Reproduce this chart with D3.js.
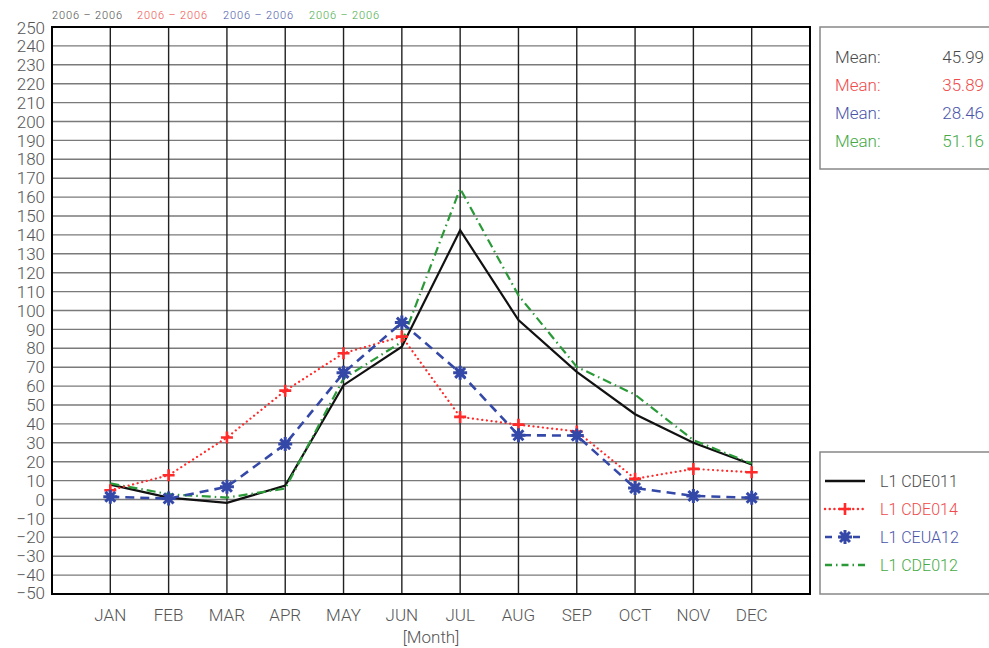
<!DOCTYPE html>
<html><head><meta charset="utf-8">
<script src="https://cdn.jsdelivr.net/npm/d3@7"></script>
<style>body{margin:0;background:#fff}svg{display:block}text{font-family:Roboto,"Liberation Sans",Arial,sans-serif;font-weight:300}</style>
</head><body><svg id="c" width="989" height="648"></svg>
<script>
const months = ["JAN","FEB","MAR","APR","MAY","JUN","JUL","AUG","SEP","OCT","NOV","DEC"];
const yTicks = d3.range(-50, 251, 10);
const seriesNames = ["L1 CDE011","L1 CDE014","L1 CEUA12","L1 CDE012"];
const periods = ["2006 - 2006","2006 - 2006","2006 - 2006","2006 - 2006"];
const means = ["45.99","35.89","28.46","51.16"];
const cde011 = [7.9, 1.0, -1.8, 7.4, 60.5, 80.8, 142.5, 94.9, 67.5, 45.1, 30.0, 18.5];
const cde014 = [4.9, 12.8, 32.8, 57.6, 77.4, 86.2, 43.7, 39.6, 36.0, 11.0, 16.2, 14.4];
const ceua12 = [1.4, 0.5, 6.7, 29.3, 67.0, 93.6, 67.0, 34.0, 33.8, 6.1, 1.9, 0.9];
const cde012 = [8.5, 2.8, 1.0, 5.8, 64.0, 83.4, 164.5, 108.0, 70.2, 55.5, 31.4, 19.0];

const colors = ["#111111","#ff2a2a","#3448a8","#2a9a38"];
const textColors = ["#4a4a4a","#f04a4a","#4a55aa","#45aa45"];
const dashes = [null, "0.1 4.6", "9 6", "9 4 1.5 4"];
const markers = [null, "plus", "star", null];

const svg = d3.select("#c");
const L = 52, R = 810, T = 27, B = 594;
const x = d3.scaleLinear().domain([0, 13]).range([L, R]);
const y = d3.scaleLinear().domain([-50, 250]).range([B, T]);

// horizontal grid
svg.append("g").selectAll("line").data(yTicks.filter(v => v > -50 && v < 250)).join("line")
  .attr("x1", L).attr("x2", R).attr("y1", d => y(d)).attr("y2", d => y(d))
  .attr("stroke", "#7a7a7a").attr("stroke-width", 1.4);
// vertical grid
svg.append("g").selectAll("line").data(months).join("line")
  .attr("x1", (d,i) => x(i+1)).attr("x2", (d,i) => x(i+1)).attr("y1", T).attr("y2", B)
  .attr("stroke", "#222").attr("stroke-width", 1.4);
// frame
svg.append("rect").attr("x", L).attr("y", T).attr("width", R-L).attr("height", B-T)
  .attr("fill", "none").attr("stroke", "#000").attr("stroke-width", 2);

// y labels
svg.append("g").selectAll("text").data(yTicks).join("text")
  .attr("x", 45).attr("y", d => y(d) + (d === 250 ? 1 : d === -50 ? -1 : 0))
  .attr("dy", "0.36em").attr("text-anchor", "end")
  .attr("font-size", 17).attr("fill", "#555")
  .text(d => d < 0 ? "\u2212" + Math.abs(d) : d);

// x labels
svg.append("g").selectAll("text").data(months).join("text")
  .attr("x", (d,i) => x(i+1)).attr("y", 621).attr("text-anchor", "middle")
  .attr("font-size", 17).attr("fill", "#555").text(d => d);
svg.append("text").attr("x", x(6.5)).attr("y", 643).attr("text-anchor", "middle")
  .attr("font-size", 17).attr("fill", "#555").text("[Month]");

// header periods
const hx = [52, 137, 223, 309];
svg.append("g").selectAll("text").data(periods).join("text")
  .attr("x", (d,i) => hx[i]).attr("y", 19).attr("font-size", 11)
  .attr("textLength", 70).attr("lengthAdjust", "spacing")
  .attr("fill", (d,i) => textColors[i]).text(d => d.replace(" - ", "  \u2013  "));

// series
const data = [cde011, cde014, ceua12, cde012];
const line = d3.line().x((d,i) => x(i+1)).y(d => y(d));
const order = [0, 3, 1, 2];
const symPlus = (g, cx, cy, c) => {
  g.append("path").attr("d", `M${cx-6},${cy}H${cx+6}M${cx},${cy-6}V${cy+6}`)
    .attr("stroke", c).attr("stroke-width", 2.6).attr("fill", "none");
};
const symStar = (g, cx, cy, c) => {
  let p = "";
  for (let k = 0; k < 4; k++) {
    const a = k * Math.PI / 4;
    const dx = 7 * Math.cos(a), dy = 7 * Math.sin(a);
    p += `M${cx-dx},${cy-dy}L${cx+dx},${cy+dy}`;
  }
  g.append("path").attr("d", p).attr("stroke", c).attr("stroke-width", 3).attr("fill", "none");
  g.append("circle").attr("cx", cx).attr("cy", cy).attr("r", 3.5).attr("fill", c);
};
const gS = svg.append("g");
order.forEach(s => {
  gS.append("path").datum(data[s]).attr("d", line).attr("fill", "none")
    .attr("stroke", colors[s]).attr("stroke-width", s === 2 ? 2.6 : 2.2)
    .attr("stroke-linecap", s === 1 ? "round" : "butt")
    .attr("stroke-dasharray", dashes[s]);
  if (markers[s]) {
    data[s].forEach((v, i) => {
      if (markers[s] === "plus") symPlus(gS, x(i+1), y(v), colors[s]);
      else symStar(gS, x(i+1), y(v), colors[s]);
    });
  }
});

// mean box
svg.append("rect").attr("x", 820).attr("y", 27).attr("width", 180).attr("height", 142)
  .attr("fill", "#fff").attr("stroke", "#888").attr("stroke-width", 1.5);
const mg = svg.append("g");
means.forEach((m, i) => {
  mg.append("text").attr("x", 835).attr("y", 63 + i*28).attr("font-size", 17)
    .attr("fill", textColors[i]).text("Mean:");
  mg.append("text").attr("x", 984).attr("y", 63 + i*28).attr("font-size", 17)
    .attr("text-anchor", "end").attr("fill", textColors[i]).text(m);
});

// legend box
svg.append("rect").attr("x", 820).attr("y", 452).attr("width", 180).attr("height", 142)
  .attr("fill", "#fff").attr("stroke", "#888").attr("stroke-width", 1.5);
const lg = svg.append("g");
seriesNames.forEach((n, i) => {
  const ly = 481 + i*28;
  lg.append("line").attr("x1", 825).attr("x2", 865).attr("y1", ly).attr("y2", ly)
    .attr("stroke", colors[i]).attr("stroke-width", 2.4)
    .attr("stroke-linecap", i === 1 ? "round" : "butt")
    .attr("stroke-dasharray", i === 1 ? "0.1 4.6" : i === 2 ? "7 7" : i === 3 ? "7 4 1.5 4" : null);
  if (markers[i] === "plus") symPlus(lg, 845, ly, colors[i]);
  if (markers[i] === "star") symStar(lg, 845, ly, colors[i]);
  lg.append("text").attr("x", 880).attr("y", ly + 6).attr("font-size", 16)
    .attr("fill", textColors[i]).text(n.replace(" ", "  "));
});
</script></body></html>
